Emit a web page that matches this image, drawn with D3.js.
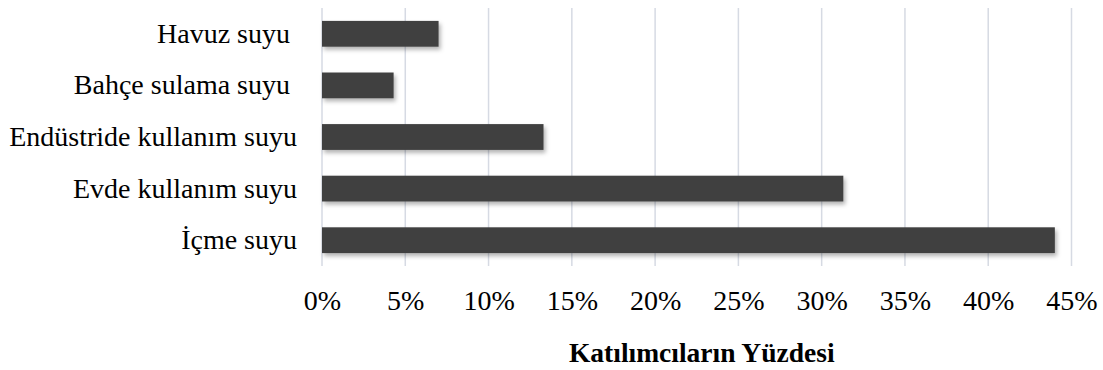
<!DOCTYPE html>
<html>
<head>
<meta charset="utf-8">
<script src="https://cdn.jsdelivr.net/npm/d3@7"></script>
<style>
  html, body { margin: 0; padding: 0; background: #fff; }
  svg { display: block; }
</style>
</head>
<body>
<svg id="chart" width="1103" height="370"></svg>
<script>
// Usage categories, bottom to top as listed in the axis
const categories = ["Havuz suyu ", "Bahçe sulama suyu ", "Endüstride kullanım suyu", "Evde kullanım suyu", "İçme suyu"];
const percentages = [7.0, 4.3, 13.3, 31.3, 44.0];
const tickValues = [0, 5, 10, 15, 20, 25, 30, 35, 40, 45];
const axisTitle = "Katılımcıların Yüzdesi";

const svg = d3.select("#chart");
const margin = { left: 322, right: 31.5, top: 8, bottom: 104 };
const W = 1103, H = 370;

const x = d3.scaleLinear().domain([0, 45]).range([margin.left, W - margin.right]);
const y = d3.scaleBand().domain(categories).range([margin.top, H - margin.bottom]).paddingInner(0.5).paddingOuter(0.25);

const defs = svg.append("defs");
const f = defs.append("filter").attr("id", "shadow").attr("x", "-5%").attr("y", "-30%").attr("width", "115%").attr("height", "180%");
f.append("feDropShadow").attr("dx", 2).attr("dy", 3).attr("stdDeviation", 2)
  .attr("flood-color", "#000").attr("flood-opacity", 0.3);

// vertical gridlines
svg.append("g").selectAll("line").data(tickValues).join("line")
  .attr("x1", d => x(d)).attr("x2", d => x(d))
  .attr("y1", margin.top).attr("y2", H - margin.bottom)
  .attr("stroke", "#d6dae3").attr("stroke-width", 1.5);

// bars
svg.append("g").selectAll("rect").data(categories).join("rect")
  .attr("x", x(0))
  .attr("y", d => y(d))
  .attr("width", (d, i) => x(percentages[i]) - x(0))
  .attr("height", y.bandwidth())
  .attr("fill", "#404040")
  .attr("filter", "url(#shadow)");

const font = "'Liberation Serif', 'Times New Roman', serif";

// category labels
const yAxis = d3.axisLeft(y).tickSize(0).tickPadding(25);
const gy = svg.append("g").attr("transform", `translate(${x(0)},0)`).call(yAxis);
gy.select(".domain").remove();
gy.selectAll("text")
  .attr("font-family", font).attr("font-size", 28).attr("fill", "#000")
  .style("white-space", "pre").attr("xml:space", "preserve");

// percent tick labels
const xAxis = d3.axisBottom(x).tickValues(tickValues).tickFormat(d => d + "%").tickSize(0).tickPadding(24);
const gx = svg.append("g").attr("transform", `translate(0,${H - margin.bottom})`).call(xAxis);
gx.select(".domain").remove();
gx.selectAll("text").attr("font-family", font).attr("font-size", 28).attr("fill", "#000");

// axis title
svg.append("text")
  .attr("x", (x(0) + x(45)) / 2 + 5).attr("y", 362)
  .attr("text-anchor", "middle")
  .attr("font-family", font).attr("font-size", 27.5).attr("font-weight", "bold")
  .attr("fill", "#000")
  .text(axisTitle);
</script>
</body>
</html>
